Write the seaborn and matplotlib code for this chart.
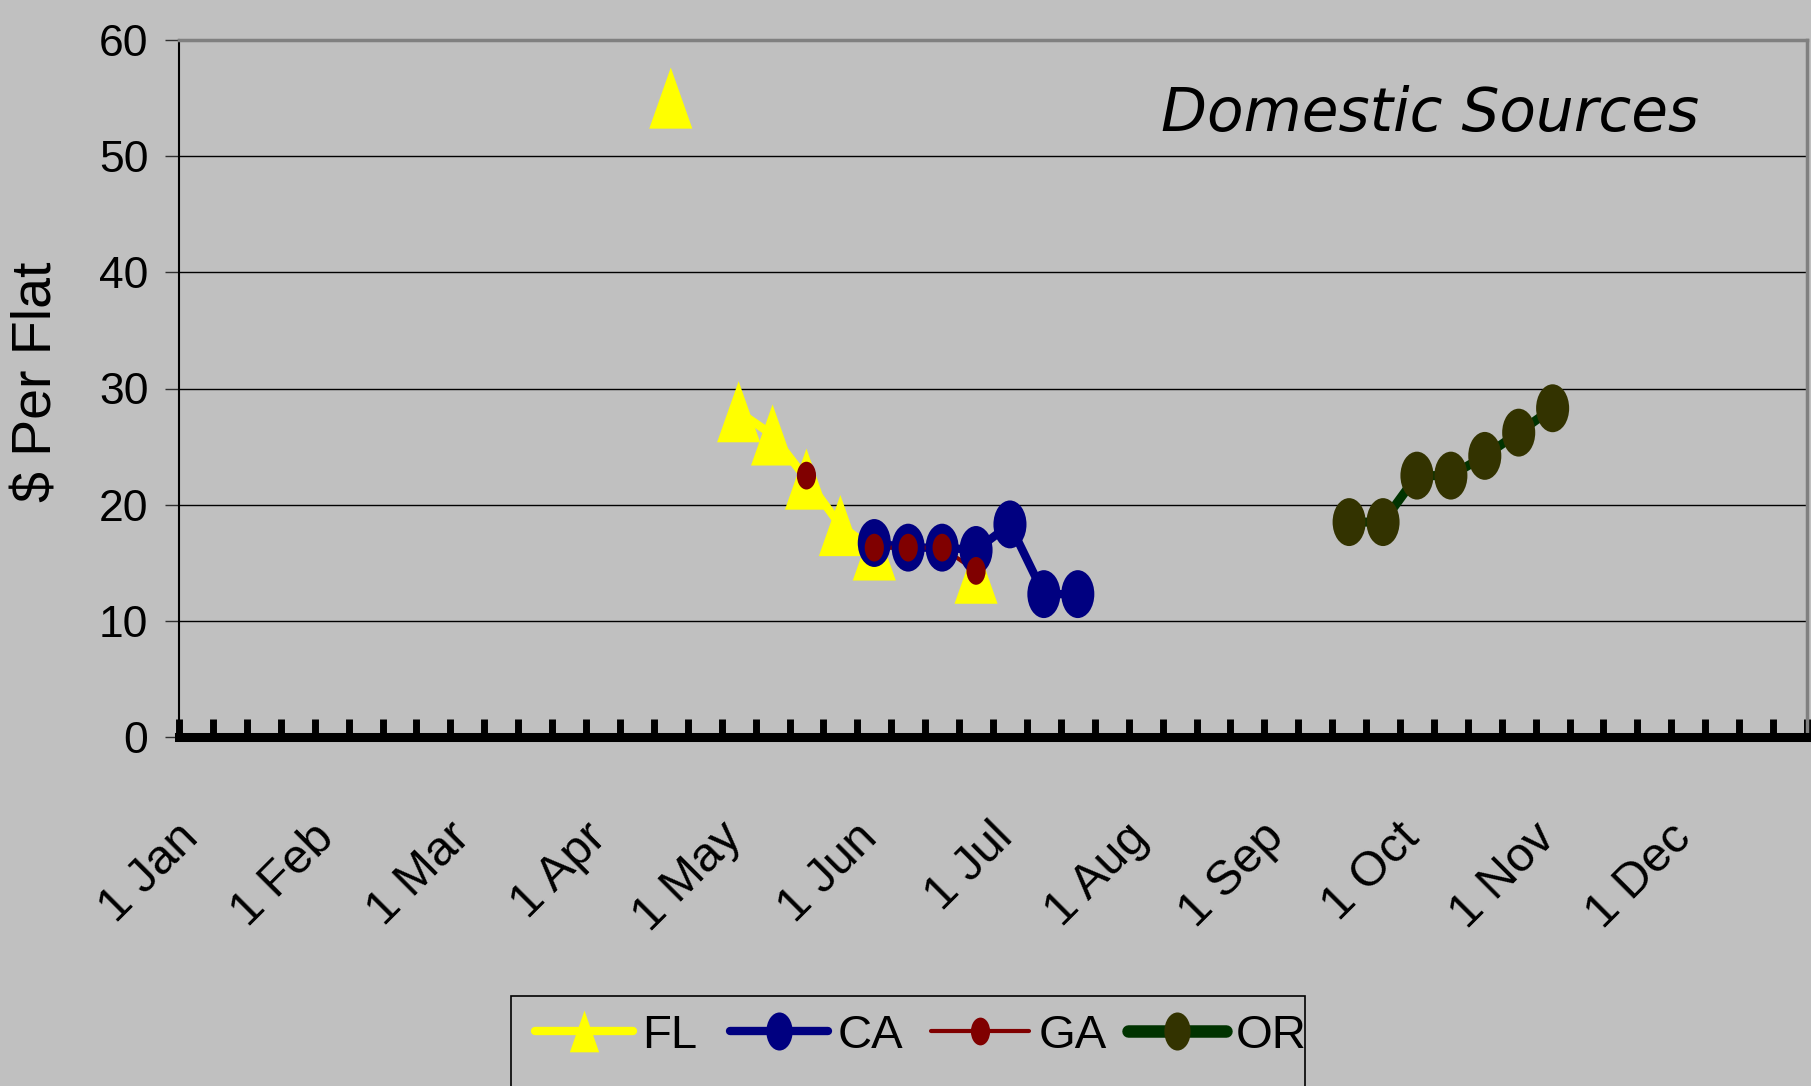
import numpy as np
import pandas as pd
import matplotlib
matplotlib.use("Agg")
import matplotlib.pyplot as plt
import matplotlib.transforms as mtransforms
from matplotlib import font_manager
import seaborn as sns
from matplotlib.path import Path
from matplotlib.lines import Line2D
from matplotlib.patches import Rectangle

# Datos: semanas (4 por mes, 0 = 1 Jan) y precio por bandeja
month_labels = ['1 Jan', '1 Feb', '1 Mar', '1 Apr', '1 May', '1 Jun',
                '1 Jul', '1 Aug', '1 Sep', '1 Oct', '1 Nov', '1 Dec']

fl_week = [14, 16, 17, 18, 19, 20, 23]
fl_price = [55, 28, 26, 22.2, 18.2, 16.1, 14.1]
ca_week = [20, 21, 22, 23, 24, 25, 26]
ca_price = [16.7, 16.3, 16.3, 16.1, 18.3, 12.3, 12.3]
ga_week = [18, 20, 21, 22, 23]
ga_price = [22.5, 16.3, 16.3, 16.3, 14.3]
or_week = [34, 35, 36, 37, 38, 39, 40]
or_price = [18.5, 18.5, 22.5, 22.5, 24.2, 26.2, 28.3]

sns.set_style("white")
plt.rcParams['font.family'] = ['Liberation Sans', 'DejaVu Sans']
plt.rcParams['text.color'] = 'black'

# buscar una fuente estrecha tipo "Arial Narrow"
avail = {f.name for f in font_manager.fontManager.ttflist}
if 'Liberation Sans Narrow' in avail:
    narrow = {'family': 'Liberation Sans Narrow'}
    ysize, legsize = 36, 38
else:
    narrow = {'family': 'Liberation Sans'}
    ysize, legsize = 32, 34

bg = '#C0C0C0'

# marcadores "estirados" como en el original (elipse y triangulo alto)
circ = Path.unit_circle()
ellipse = Path(circ.vertices * np.array([0.69, 1.0]), circ.codes)
tri = Path([(0, 1), (-0.705, -1), (0.705, -1), (0, 1)],
           [Path.MOVETO, Path.LINETO, Path.LINETO, Path.CLOSEPOLY])


def make_df(weeks, prices):
    d = pd.DataFrame({'week': weeks, 'price': prices})
    # cortar la linea donde faltan semanas
    d['seg'] = (d['week'].diff() > 1).cumsum()
    return d


series = [
    # nombre, semanas, precios, color linea, color marcador, grosor, marcador, tamaño (pt)
    ('FL', fl_week, fl_price, '#FFFF00', '#FFFF00', 6.0, tri, 44),
    ('CA', ca_week, ca_price, '#000080', '#000080', 6.0, ellipse, 34.5),
    ('GA', ga_week, ga_price, '#800000', '#800000', 3.0, ellipse, 20),
    ('OR', or_week, or_price, '#003300', '#333300', 6.5, ellipse, 34.5),
]

fig = plt.figure(figsize=(18.11, 10.86), dpi=100, facecolor=bg)
ax = fig.add_axes([179 / 1811, 1 - 737 / 1086, (1807 - 179) / 1811, (737 - 40) / 1086])
ax.set_facecolor(bg)

# como en Excel: primero todas las lineas, luego los marcadores
z = 4
for name, wk, pr, lc, mc, lw, mk, ms in series:
    d = make_df(wk, pr)
    sns.lineplot(data=d, x='week', y='price', units='seg', estimator=None,
                 color=lc, linewidth=lw, ax=ax, legend=False, zorder=3)
    sns.scatterplot(data=d, x='week', y='price', marker=mk, s=ms ** 2,
                    color=mc, edgecolor='none', linewidth=0, ax=ax,
                    legend=False, zorder=z)
    z += 1

ax.set_xlim(-0.5, 47.5)
ax.set_ylim(0, 60)
ax.set_xlabel('')
ax.set_ylabel('')

ax.set_yticks(range(0, 61, 10))
ax.tick_params(axis='y', left=True, length=10, width=1, color='#303030', direction='out',
               pad=12, labelsize=ysize, labelcolor='black')
for lab in ax.get_yticklabels():
    lab.set_fontfamily(narrow['family'])
ax.yaxis.grid(True, color='black', linewidth=1)
ax.set_axisbelow(True)

ax.set_xticks(range(0, 48, 4))
ax.set_xticklabels(month_labels)
ax.set_xticks(np.arange(-0.5, 48, 1), minor=True)
ax.tick_params(axis='x', which='major', bottom=True, length=0, pad=56, labelcolor='black')
ax.tick_params(axis='x', which='minor', bottom=True, direction='in', length=13, width=5,
               color='black')
shift = mtransforms.ScaledTranslation(-0.2, 0, fig.dpi_scale_trans)
for lab in ax.get_xticklabels():
    lab.set_rotation(45)
    lab.set_ha('right')
    lab.set_va('top')
    lab.set_rotation_mode('anchor')
    lab.set_fontfamily('Liberation Sans')
    lab.set_fontsize(35)
    lab.set_transform(lab.get_transform() + shift)

ax.spines['bottom'].set_linewidth(6.5)
ax.spines['bottom'].set_color('black')
ax.spines['left'].set_linewidth(1.5)
ax.spines['left'].set_color('black')
ax.spines['top'].set_linewidth(2.5)
ax.spines['top'].set_color('#808080')
ax.spines['right'].set_linewidth(2.5)
ax.spines['right'].set_color('#808080')

fig.text(38 / 1811, 1 - 502 / 1086, '$ Per Flat', rotation=90, ha='center', va='bottom',
         fontsize=40, family='Liberation Sans', color='black')

fig.text(1161 / 1811, 1 - 131 / 1086, 'Domestic Sources', ha='left', va='baseline',
         fontsize=43, style='italic', family='DejaVu Sans', color='black')

# leyenda: una entrada por posicion, como en el original
leg_sizes = {'FL': 30, 'CA': 27.4, 'GA': 20, 'OR': 27.4}
leg_x = {'FL': 535, 'CA': 730, 'GA': 931, 'OR': 1128}
for name, wk, pr, lc, mc, lw, mk, ms in series:
    h = Line2D([], [], color=lc, linewidth=lw if name != 'OR' else 9,
               marker=mk, markersize=leg_sizes[name], markerfacecolor=mc,
               markeredgewidth=0, solid_capstyle='round')
    leg = fig.legend([h], [name], loc='center left',
                     bbox_to_anchor=(leg_x[name] / 1811, 1 - 1036 / 1086), frameon=False,
                     prop={'family': narrow['family'], 'size': legsize},
                     handlelength=98 / (legsize * 100 / 72), handletextpad=0.2,
                     borderpad=0, borderaxespad=0)
    for t in leg.get_texts():
        t.set_color('black')
fig.patches.append(Rectangle((511 / 1811, -0.02), (1305 - 511) / 1811, (1086 - 996) / 1086 + 0.02,
                             transform=fig.transFigure, fill=False, edgecolor='black',
                             linewidth=1.2))

plt.savefig('out.png', dpi=100, facecolor=bg)
plt.close()
